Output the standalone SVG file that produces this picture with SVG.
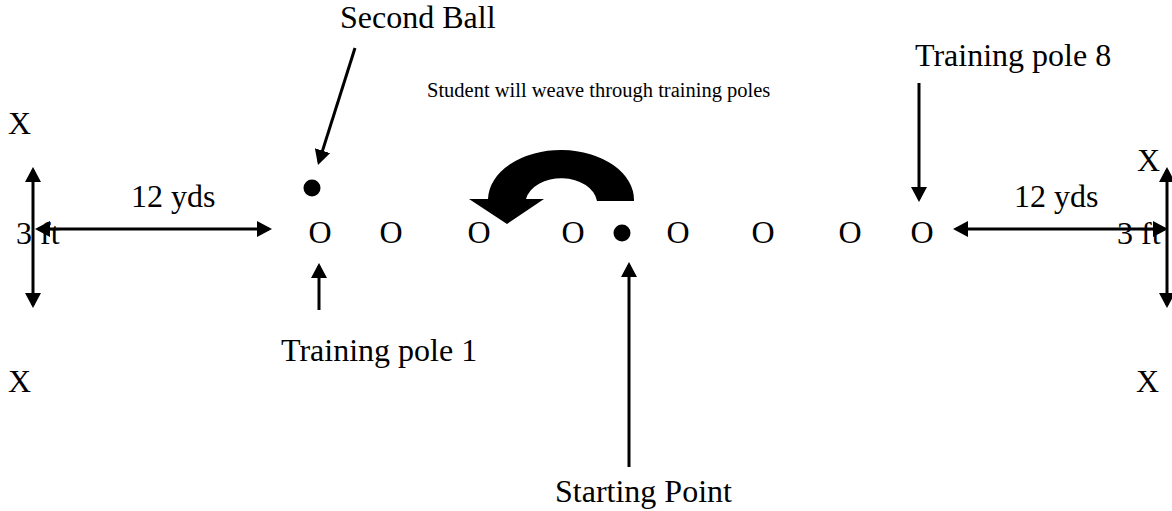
<svg xmlns="http://www.w3.org/2000/svg" width="1172" height="511" viewBox="0 0 1172 511">
  <style>
    text { font-family: "Liberation Serif", "Times New Roman", serif; fill: #000; }
    .lbl { font-size: 32px; }
    .small { font-size: 20.5px; }
    .conn { stroke: #000; stroke-width: 3; fill: none; }
    .one { marker-end: url(#ah); }
    .two { marker-start: url(#ah); marker-end: url(#ah); }
  </style>
  <defs>
    <marker id="ah" markerUnits="userSpaceOnUse" markerWidth="16" markerHeight="16" refX="12" refY="8" orient="auto-start-reverse" viewBox="0 0 16 16">
      <path d="M0,0 L15,8 L0,16 z" fill="#000"/>
    </marker>
  </defs>
  <rect width="1172" height="511" fill="#fff"/>

  <g id="labels">
    <text id="second-ball-label" class="lbl" x="340" y="28">Second Ball</text>
    <text id="weave-label" class="small" x="427" y="97">Student will weave through training poles</text>
    <text id="pole8-label" class="lbl" x="915" y="66">Training pole 8</text>
    <text id="pole1-label" class="lbl" x="281" y="361">Training pole 1</text>
    <text id="start-label" class="lbl" x="555" y="502">Starting Point</text>
    <text id="left-yds" class="lbl" x="131" y="207">12 yds</text>
    <text id="right-yds" class="lbl" x="1014" y="207">12 yds</text>
    <text id="left-ft" class="lbl" x="16" y="244">3 ft</text>
    <text id="right-ft" class="lbl" x="1117" y="244">3 ft</text>
    <text id="x-tl" class="lbl" x="8" y="134">X</text>
    <text id="x-tr" class="lbl" x="1137" y="171">X</text>
    <text id="x-bl" class="lbl" x="8" y="392">X</text>
    <text id="x-br" class="lbl" x="1136" y="392">X</text>
  </g>

  <g id="poles" class="lbl" text-anchor="middle">
    <text id="pole1" class="lbl" x="320" y="243">O</text>
    <text id="pole2" class="lbl" x="391" y="243">O</text>
    <text id="pole3" class="lbl" x="479" y="243">O</text>
    <text id="pole4" class="lbl" x="573" y="243">O</text>
    <text id="pole5" class="lbl" x="678" y="243">O</text>
    <text id="pole6" class="lbl" x="763" y="243">O</text>
    <text id="pole7" class="lbl" x="850" y="243">O</text>
    <text id="pole8" class="lbl" x="922" y="243">O</text>
  </g>

  <g id="balls">
    <circle id="second-ball" cx="312" cy="188" r="8.5" fill="#000"/>
    <circle id="start-ball" cx="622" cy="233" r="8.5" fill="#000"/>
  </g>

  <g id="weave-arrow">
    <path d="M634,201 A73,50 0 0 0 488,199 L469,199 L507,224 L544,199 L526,199 A36,26 0 0 1 597,201 Z" fill="#000"/>
  </g>

  <g id="connectors">
    <line class="conn one" x1="355" y1="48" x2="318.9" y2="162.1"/>
    <line class="conn one" x1="919" y1="83" x2="919" y2="199"/>
    <line class="conn one" x1="319" y1="310" x2="319" y2="266"/>
    <line class="conn one" x1="629" y1="467" x2="629" y2="265"/>
    <line class="conn two" x1="33" y1="170" x2="33" y2="305"/>
    <line class="conn two" x1="38" y1="229" x2="269" y2="229"/>
    <line class="conn two" x1="956" y1="229" x2="1165" y2="229"/>
    <line class="conn two" x1="1167" y1="170" x2="1167" y2="305"/>
  </g>
</svg>
